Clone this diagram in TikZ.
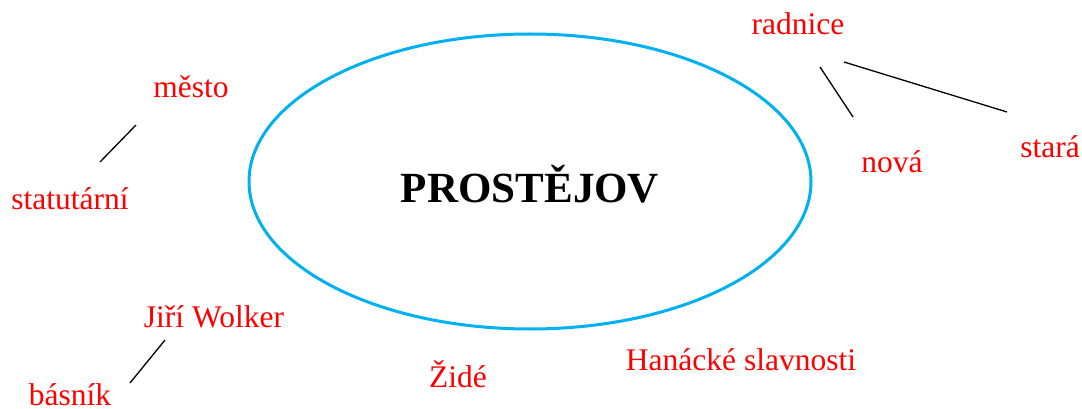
\documentclass[tikz,border=0pt]{standalone}
\usepackage{fontspec}
\setmainfont{Liberation Serif}
\definecolor{modra}{RGB}{0,176,240}
\tikzset{
	pojem/.style={text=red, font=\fontsize{31.5}{36}\selectfont, anchor=base, inner sep=0pt},
	hlavni/.style={font=\fontsize{43}{48}\selectfont\bfseries, anchor=base, inner sep=0pt},
	spoj/.style={black, line width=1.3pt}
}

\begin{document}
\begin{tikzpicture}[x=1pt,y=-1pt]
			\useasboundingbox (0,0) rectangle (1082,409);
			\draw [modra, line width=3pt] (530,181.5) ellipse (281pt and 147.5pt);
			\node[hlavni] (prostejov) at (530,203) {PROSTĚJOV};
			
			\node[pojem] (radnice) at (798,35) {radnice};
			\node[pojem] (nova) at (892,172) {nová};
			\node[pojem] (stara) at (1050,158) {stará};
			\node[pojem] (mesto) at (191,98) {město};
			\node[pojem] (statutarni) at (70,209) {statutární};
			\node[pojem] (wolker) at (214,327) {Jiří Wolker};
			\node[pojem] (basnik) at (70,405) {básník};
			\node[pojem] (zide) at (458,387) {Židé};
			\node[pojem] (slavnosti) at (741,370) {Hanácké slavnosti};
			
			\coordinate (r1) at (820,67);
			\coordinate (n1) at (853,117);
			\coordinate (r2) at (844,62);
			\coordinate (s1) at (1007,112);
			\coordinate (m1) at (136,125);
			\coordinate (st1) at (100,162);
			\coordinate (w1) at (165,340);
			\coordinate (b1) at (130,383);
			
			\draw [spoj] (r1)-- (n1);
			\draw [spoj] (r2)-- (s1);
			\draw [spoj] (m1)-- (st1);
			\draw [spoj] (w1)-- (b1);
		\end{tikzpicture}
\end{document}
